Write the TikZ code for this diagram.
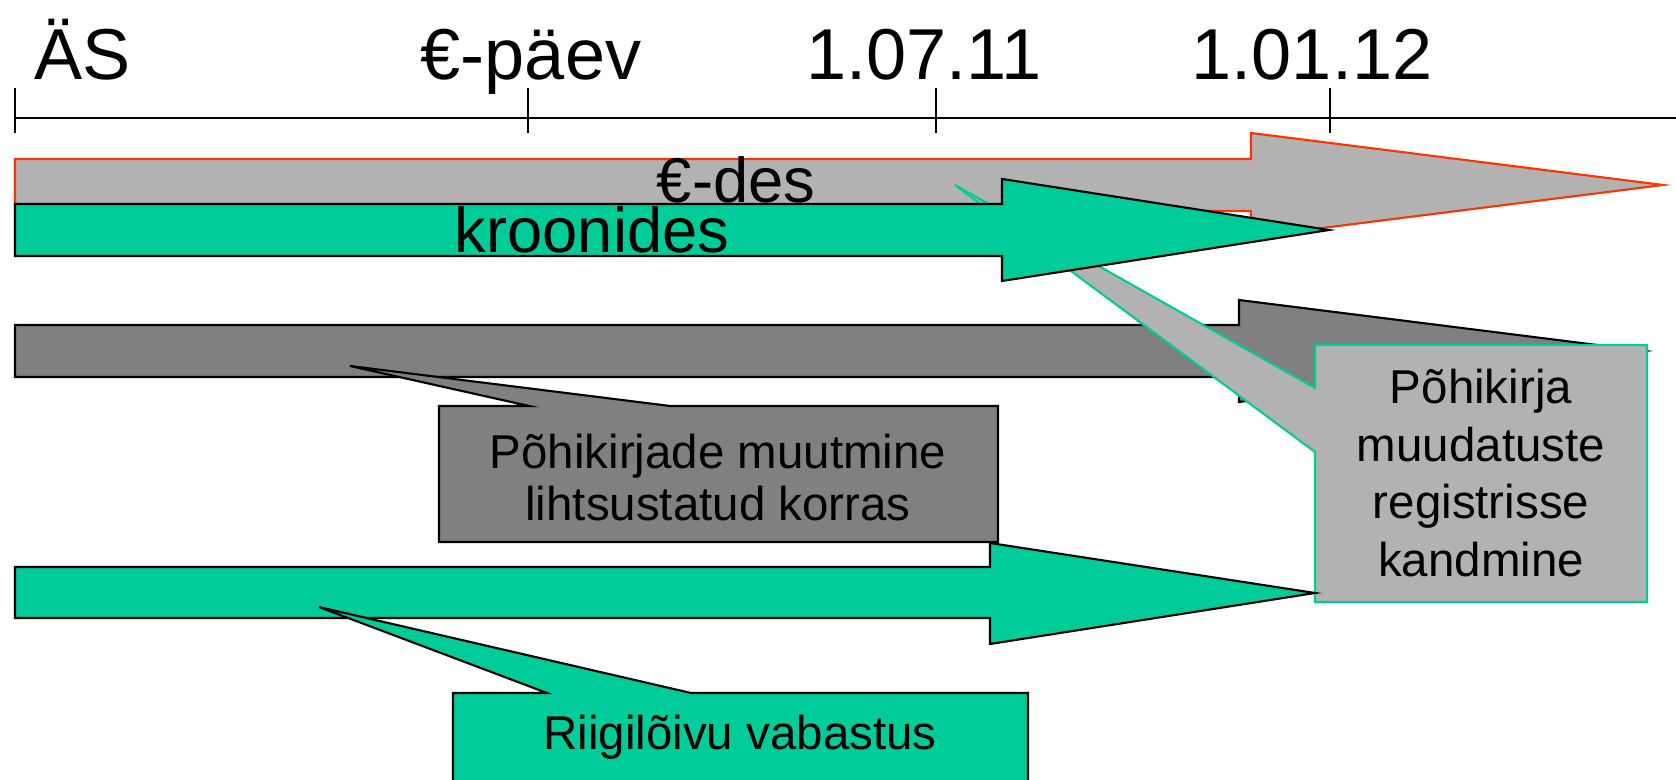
\documentclass[tikz,border=0pt]{standalone}
\usepackage{fontspec}
\setmainfont{Liberation Sans}
\usetikzlibrary{math}

\definecolor{eurogrey}{HTML}{B2B2B2}
\definecolor{darkgrey}{HTML}{808080}
\definecolor{kroongreen}{HTML}{00CC99}
\definecolor{eurored}{HTML}{FF3300}

\begin{document}
\begin{tikzpicture}[x=0.01cm,y=-0.01cm,line width=0.6pt,
  datelabel/.style={anchor=base,inner sep=0pt,font=\fontsize{20.5}{24}\selectfont},
  barlabel/.style={anchor=base,inner sep=0pt,font=\fontsize{18}{21}\selectfont},
  calltext/.style={align=center,inner sep=0pt,font=\fontsize{13.5}{16.4}\selectfont}]

  \tikzmath{
    \barx    = 15;   % left end of all bars
    \axisy   = 118;  % height of the time axis
    \ticktop = 88;   % upper end of the ticks
    \tickbot = 133;  % lower end of the ticks
  }

  \useasboundingbox (0,0) rectangle (1676,780);
  \clip (0,0) rectangle (1676,780);

  % time axis
  \coordinate (A0) at (\barx,\axisy);
  \coordinate (A1) at (1676,\axisy);
  \draw (A0) -- (A1);
  \foreach \tx in {15,528,936,1330}
    \draw (\tx,\ticktop) -- (\tx,\tickbot);

  % dates above the axis
  \node[datelabel,anchor=base west] (as)    at (33,80)  {ÄS};
  \node[datelabel]                  (eday)  at (531,80) {€-päev};
  \node[datelabel]                  (july)  at (924,80) {1.07.11};
  \node[datelabel]                  (jan)   at (1312,80) {1.01.12};

  % euro arrow
  \draw[eurored,fill=eurogrey] (\barx,159) -- (1251,159) -- (1251,133) -- (1663,185)
    -- (1251,237) -- (1251,211) -- (\barx,211) -- cycle;
  \node[barlabel] (eurodes) at (736,203) {€-des};

  % statute arrow
  \draw[fill=darkgrey] (\barx,325) -- (1239,325) -- (1239,300) -- (1645,351)
    -- (1239,402) -- (1239,377) -- (\barx,377) -- cycle;

  % callout: registration of changes
  \draw[kroongreen,fill=eurogrey] (1315,345) -- (1647,345) -- (1647,602) -- (1315,602)
    -- (1315,452) -- (955,185) -- (1315,388) -- cycle;
  \node[calltext] (regcall) at (1481,473) {Põhikirja\\muudatuste\\registrisse\\kandmine};

  % kroon arrow
  \draw[fill=kroongreen] (\barx,204) -- (1002,204) -- (1002,179) -- (1329,230)
    -- (1002,281) -- (1002,256) -- (\barx,256) -- cycle;
  \node[barlabel] (kroon) at (592,253) {kroonides};

  % callout: simplified procedure
  \draw[fill=darkgrey] (439,406) -- (529,406) -- (350,366) -- (670,406) -- (998,406)
    -- (998,542) -- (439,542) -- cycle;
  \node[calltext,font=\fontsize{13.5}{14.8}\selectfont] (statcall) at (718,478)
    {Põhikirjade muutmine\\lihtsustatud korras};

  % fee arrow
  \draw[fill=kroongreen] (\barx,567) -- (990,567) -- (990,543) -- (1315,593)
    -- (990,644) -- (990,618) -- (\barx,618) -- cycle;

  % callout: fee exemption
  \draw[fill=kroongreen] (453,693) -- (547,693) -- (319,607) -- (691,693) -- (1028,693)
    -- (1028,800) -- (453,800) -- cycle;
  \node[calltext,anchor=base] (feecall) at (740,750) {Riigilõivu vabastus};

\end{tikzpicture}
\end{document}
